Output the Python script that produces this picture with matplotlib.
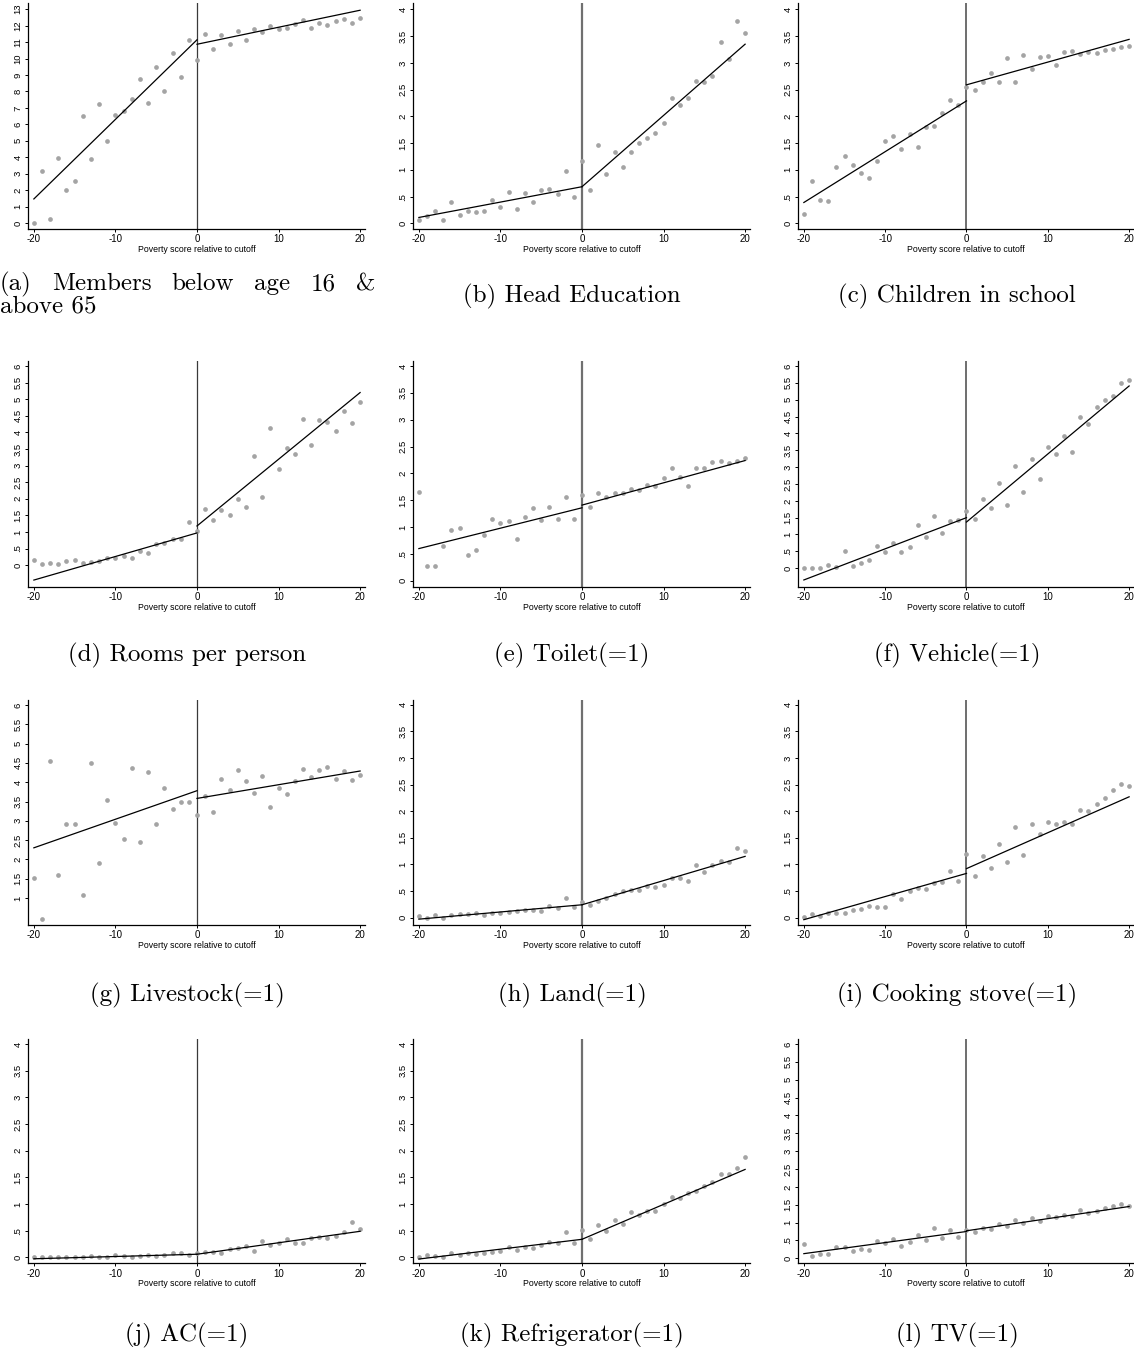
import matplotlib
matplotlib.use("Agg")
import matplotlib.pyplot as plt

# Running variable: poverty score relative to the eligibility cutoff
score = list(range(-20, 21))

# Binned means of each outcome, one value per score bin (-20 .. 20)
members_vals = [0.00, 3.16, 0.24, 3.93, 2.03, 2.56, 6.51, 3.87, 7.26, 5.01,
                6.57, 6.82, 7.57, 8.78, 7.32, 9.51, 8.01, 10.34, 8.88, 11.12,
                9.90, 11.50, 10.57, 11.46, 10.91, 11.70, 11.12, 11.81, 11.60, 11.99,
                11.81, 11.83, 12.11, 12.37, 11.83, 12.19, 12.07, 12.27, 12.43, 12.15, 12.49]
head_edu_vals = [0.07, 0.14, 0.23, 0.06, 0.40, 0.16, 0.24, 0.22, 0.24, 0.43,
                 0.31, 0.59, 0.26, 0.57, 0.40, 0.63, 0.65, 0.55, 0.97, 0.50,
                 1.16, 0.62, 1.46, 0.93, 1.34, 1.06, 1.33, 1.51, 1.60, 1.69,
                 1.88, 2.35, 2.22, 2.34, 2.67, 2.65, 2.76, 3.39, 3.08, 3.78, 3.55]
children_vals = [0.17, 0.79, 0.44, 0.42, 1.05, 1.25, 1.10, 0.95, 0.84, 1.16,
                 1.54, 1.63, 1.39, 1.67, 1.43, 1.80, 1.82, 2.07, 2.30, 2.22,
                 2.55, 2.49, 2.65, 2.81, 2.64, 3.10, 2.65, 3.15, 2.88, 3.11,
                 3.13, 2.96, 3.21, 3.23, 3.16, 3.21, 3.18, 3.24, 3.26, 3.29, 3.32]
rooms_vals = [0.15, 0.02, 0.06, 0.04, 0.12, 0.15, 0.07, 0.10, 0.13, 0.21,
              0.22, 0.27, 0.22, 0.44, 0.37, 0.65, 0.68, 0.79, 0.80, 1.29,
              1.03, 1.70, 1.36, 1.67, 1.50, 2.00, 1.74, 3.30, 2.05, 4.14,
              2.89, 3.54, 3.36, 4.39, 3.63, 4.37, 4.32, 4.03, 4.64, 4.27, 4.92]
toilet_vals = [1.65, 0.28, 0.28, 0.64, 0.95, 0.98, 0.48, 0.58, 0.85, 1.15,
               1.08, 1.12, 0.77, 1.18, 1.36, 1.13, 1.38, 1.15, 1.56, 1.15,
               1.60, 1.38, 1.63, 1.57, 1.63, 1.64, 1.71, 1.69, 1.79, 1.76,
               1.92, 2.10, 1.93, 1.76, 2.10, 2.11, 2.22, 2.24, 2.20, 2.23, 2.29]
vehicle_vals = [0.01, 0.01, 0.01, 0.08, 0.03, 0.51, 0.06, 0.16, 0.23, 0.66,
                0.47, 0.75, 0.49, 0.63, 1.29, 0.93, 1.56, 1.05, 1.39, 1.44,
                1.70, 1.47, 2.05, 1.80, 2.54, 1.89, 3.03, 2.26, 3.24, 2.65,
                3.60, 3.38, 3.92, 3.46, 4.48, 4.29, 4.79, 4.99, 5.12, 5.49, 5.58]
livestock_vals = [1.53, 0.46, 4.54, 1.60, 2.91, 2.91, 1.07, 4.51, 1.90, 3.53,
                  2.95, 2.52, 4.38, 2.44, 4.26, 2.91, 3.86, 3.31, 3.50, 3.49,
                  3.16, 3.63, 3.24, 4.09, 3.79, 4.31, 4.02, 3.71, 4.17, 3.36,
                  3.84, 3.70, 4.03, 4.33, 4.13, 4.32, 4.40, 4.09, 4.28, 4.05, 4.19]
land_vals = [0.03, 0.00, 0.04, 0.00, 0.04, 0.06, 0.06, 0.08, 0.05, 0.09,
             0.08, 0.11, 0.13, 0.14, 0.15, 0.13, 0.22, 0.18, 0.36, 0.19,
             0.29, 0.24, 0.31, 0.37, 0.45, 0.50, 0.52, 0.51, 0.60, 0.57,
             0.62, 0.75, 0.75, 0.69, 0.99, 0.85, 0.99, 1.06, 1.04, 1.30, 1.25]
stove_vals = [0.01, 0.06, 0.02, 0.09, 0.08, 0.09, 0.15, 0.16, 0.22, 0.19,
              0.19, 0.45, 0.34, 0.50, 0.55, 0.53, 0.65, 0.67, 0.87, 0.69,
              1.19, 0.78, 1.16, 0.93, 1.39, 1.05, 1.70, 1.17, 1.76, 1.57,
              1.80, 1.76, 1.80, 1.75, 2.03, 2.01, 2.14, 2.25, 2.39, 2.52, 2.47]
ac_vals = [0.01, 0.01, 0.01, 0.01, 0.01, 0.01, 0.01, 0.02, 0.01, 0.01,
           0.04, 0.03, 0.01, 0.03, 0.05, 0.03, 0.05, 0.075, 0.09, 0.04,
           0.075, 0.11, 0.11, 0.08, 0.15, 0.17, 0.22, 0.125, 0.31, 0.23,
           0.275, 0.34, 0.275, 0.275, 0.36, 0.39, 0.36, 0.40, 0.475, 0.66, 0.54]
fridge_vals = [0.01, 0.04, 0.03, 0.01, 0.08, 0.04, 0.08, 0.06, 0.08, 0.11,
               0.125, 0.19, 0.14, 0.19, 0.17, 0.24, 0.29, 0.27, 0.48, 0.28,
               0.51, 0.34, 0.60, 0.49, 0.71, 0.63, 0.85, 0.79, 0.88, 0.87,
               1.00, 1.14, 1.11, 1.20, 1.25, 1.34, 1.41, 1.56, 1.56, 1.68, 1.88]
tv_vals = [0.40, 0.07, 0.13, 0.13, 0.32, 0.31, 0.21, 0.27, 0.24, 0.48,
           0.43, 0.54, 0.35, 0.45, 0.66, 0.52, 0.84, 0.58, 0.78, 0.59,
           0.80, 0.75, 0.86, 0.82, 0.95, 0.91, 1.07, 0.98, 1.12, 1.04,
           1.18, 1.16, 1.22, 1.17, 1.34, 1.27, 1.31, 1.41, 1.45, 1.53, 1.46]

# Linear fits on each side of the cutoff: value at the outer end and at 0
members_fit_left, members_fit_right = [1.46, 11.14], [10.87, 12.94]
head_edu_fit_left, head_edu_fit_right = [0.11, 0.685], [0.685, 3.35]
children_fit_left, children_fit_right = [0.39, 2.29], [2.59, 3.44]
rooms_fit_left, rooms_fit_right = [-0.45, 0.97], [1.18, 5.20]
toilet_fit_left, toilet_fit_right = [0.60, 1.36], [1.41, 2.24]
vehicle_fit_left, vehicle_fit_right = [-0.35, 1.50], [1.37, 5.41]
livestock_fit_left, livestock_fit_right = [2.30, 3.78], [3.58, 4.29]
land_fit_left, land_fit_right = [-0.03, 0.24], [0.24, 1.15]
stove_fit_left, stove_fit_right = [-0.04, 0.83], [0.92, 2.27]
ac_fit_left, ac_fit_right = [-0.025, 0.06], [0.06, 0.49]
fridge_fit_left, fridge_fit_right = [-0.03, 0.34], [0.34, 1.65]
tv_fit_left, tv_fit_right = [0.13, 0.75], [0.77, 1.45]

captions = ["(b) Head Education", "(c) Children in school",
            "(d) Rooms per person", "(e) Toilet(=1)", "(f) Vehicle(=1)",
            "(g) Livestock(=1)", "(h) Land(=1)", "(i) Cooking stove(=1)",
            "(j) AC(=1)", "(k) Refrigerator(=1)", "(l) TV(=1)"]
caption_a_words = ["(a)", "Members", "below", "age", "16", "&"]
caption_a_line2 = "above 65"

xlabel_text = "Poverty score relative to cutoff"
xtick_vals = [-20, -10, 0, 10, 20]
ticks_0_13 = list(range(0, 14))
ticks_0_4 = [i * 0.5 for i in range(9)]
ticks_0_6 = [i * 0.5 for i in range(13)]
ticks_1_6 = [1 + i * 0.5 for i in range(11)]

W, H = 1134, 1351
fig = plt.figure(figsize=(W / 100, H / 100), dpi=100)
fig.patch.set_facecolor("white")

TICK_FONT = "Liberation Sans"
CAP_FONT = "cmr10"

col_px = [(28, 365), (413, 750), (798, 1134)]
row_px = [(3, 228.7), (360.7, 586.7), (700, 925), (1039.3, 1263.3)]
vline_style = [dict(color="#3a3a3a", lw=0.9),
               dict(color="#707070", lw=1.6),
               dict(color="#555555", lw=1.2)]


def tick_text(v):
    s = "%g" % v
    if s.startswith("0."):
        s = s[1:]
    return s


def panel(row, col, vals, fit_l, fit_r, ylim, yticks):
    x0, x1 = col_px[col]
    y0, y1 = row_px[row]
    ax = fig.add_axes([x0 / W, 1 - y1 / H, (x1 - x0) / W, (y1 - y0) / H])
    ax.plot(score, vals, "o", ms=3.4, color="#a4a4a4", mec="none", zorder=2)
    ax.plot([-20, 0], fit_l, color="black", lw=0.9, zorder=3)
    ax.plot([0, 20], fit_r, color="black", lw=0.9, zorder=3)
    ax.axvline(0, zorder=1, **vline_style[col])
    ax.set_xlim(-20.72, 20.6)
    ax.set_ylim(*ylim)
    for s in ("top", "right"):
        ax.spines[s].set_visible(False)
    for s in ("left", "bottom"):
        ax.spines[s].set_linewidth(0.9)
        ax.spines[s].set_color("black")
    ax.set_xticks(xtick_vals)
    ax.set_xticklabels([str(v) for v in xtick_vals], fontsize=7, family=TICK_FONT)
    ax.set_yticks(yticks)
    ax.set_yticklabels([tick_text(v) for v in yticks], fontsize=6.8,
                       family=TICK_FONT, rotation=90, va="center")
    ax.tick_params(length=2.4, width=0.7, pad=1.5)
    ax.set_xlabel(xlabel_text, fontsize=6.3, family=TICK_FONT, labelpad=0.5)
    ax.set_facecolor("none")
    return ax


panel(0, 0, members_vals, members_fit_left, members_fit_right, (-0.35, 13.38), ticks_0_13)
panel(0, 1, head_edu_vals, head_edu_fit_left, head_edu_fit_right, (-0.10, 4.12), ticks_0_4)
panel(0, 2, children_vals, children_fit_left, children_fit_right, (-0.10, 4.12), ticks_0_4)
panel(1, 0, rooms_vals, rooms_fit_left, rooms_fit_right, (-0.65, 6.16), ticks_0_6)
panel(1, 1, toilet_vals, toilet_fit_left, toilet_fit_right, (-0.11, 4.10), ticks_0_4)
panel(1, 2, vehicle_vals, vehicle_fit_left, vehicle_fit_right, (-0.55, 6.16), ticks_0_6)
panel(2, 0, livestock_vals, livestock_fit_left, livestock_fit_right, (0.30, 6.13), ticks_1_6)
panel(2, 1, land_vals, land_fit_left, land_fit_right, (-0.14, 4.09), ticks_0_4)
panel(2, 2, stove_vals, stove_fit_left, stove_fit_right, (-0.14, 4.09), ticks_0_4)
panel(3, 0, ac_vals, ac_fit_left, ac_fit_right, (-0.11, 4.09), ticks_0_4)
panel(3, 1, fridge_vals, fridge_fit_left, fridge_fit_right, (-0.11, 4.09), ticks_0_4)
panel(3, 2, tv_vals, tv_fit_left, tv_fit_right, (-0.14, 6.13), ticks_0_6)

# Sub-captions under each panel
CAP_SIZE = 18
cap_cx = [187, 572, 957]
cap_cy = [296, 655, 995, 1335]
slots = [(0, 1), (0, 2), (1, 0), (1, 1), (1, 2), (2, 0), (2, 1), (2, 2),
         (3, 0), (3, 1), (3, 2)]
for text, (r, c) in zip(captions, slots):
    fig.text(cap_cx[c] / W, 1 - cap_cy[r] / H, text, ha="center", va="center",
             fontsize=CAP_SIZE, family=CAP_FONT)

# Caption (a) wraps onto two lines; the first line is justified
renderer = fig.canvas.get_renderer()
line_left, line_right = 0, 375
word_objs = [fig.text(0, 1 - 284 / H, w, ha="left", va="center",
                      fontsize=CAP_SIZE, family=CAP_FONT) for w in caption_a_words]
widths = [t.get_window_extent(renderer).width for t in word_objs]
gap = (line_right - line_left - sum(widths)) / (len(widths) - 1)
x = line_left
for t, w in zip(word_objs, widths):
    t.set_x(x / W)
    x += w + gap
fig.text(0, 1 - 306 / H, caption_a_line2, ha="left", va="center",
         fontsize=CAP_SIZE, family=CAP_FONT)

fig.savefig("out.png", dpi=100, facecolor="white")
